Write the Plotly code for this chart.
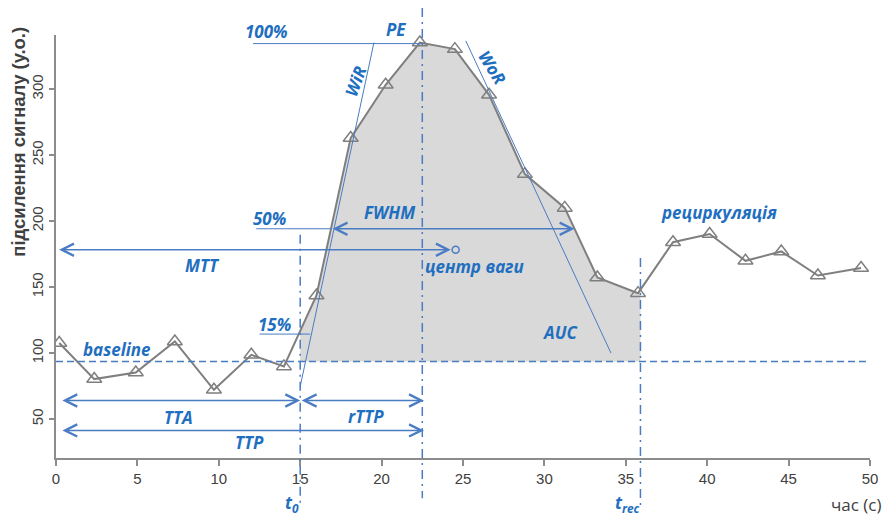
import numpy as np
import plotly.graph_objects as go

# ---- data ----
time_s = [0.2, 2.35, 4.9, 7.3, 9.7, 12.0, 14.0, 16.0, 18.1, 20.25, 22.35, 24.5,
          26.6, 28.8, 31.25, 33.25, 35.75, 37.9, 40.15, 42.35, 44.55, 46.8, 49.45]
signal = [107.6, 80.3, 85.3, 108.8, 72.2, 98.7, 89.9, 143.6, 262.9, 303.3, 335.3, 330.3,
          295.7, 235.6, 210.0, 157.3, 145.4, 184.0, 190.2, 169.9, 177.0, 158.8, 164.4]

x_ticks = [0, 5, 10, 15, 20, 25, 30, 35, 40, 45, 50]
y_ticks = [50, 100, 150, 200, 250, 300]

baseline = 93.6
t0 = 15.0
t_peak = 22.5
t_rec = 35.9
level_100 = 334.5
level_50 = 194.2
level_15 = 114.4
mtt_level = 178.3
centroid_t = 24.55
tta_level = 64.1
ttp_level = 41.4
fwhm_start, fwhm_end = 16.9, 31.85
wir_line = [(15.0, 74.7), (19.53, 335.3)]
wor_line = [(25.17, 336.6), (34.09, 100.0)]

x_range = [0, 50]
y_range = [20.5, 341]

BLUE_LINE = "#4a7cc4"
BLUE_TEXT = "#1f6fc0"
GRAY = "#7f7f7f"
DARK = "#404040"
LABEL_FONT = dict(family="Open Sans", size=17, color=BLUE_TEXT, weight="bold", style="italic")


def ypaper(v):
    return (v - y_range[0]) / (y_range[1] - y_range[0])


fig = go.Figure()

# AUC fill between t0 and t_rec above the baseline
inner = [t for t in time_s if t0 < t < t_rec]
fx = [t0] + inner + [t_rec]
fy = list(np.interp(fx, time_s, signal))
fig.add_trace(go.Scatter(
    x=[t0] + fx + [t_rec], y=[baseline] + fy + [baseline],
    fill="toself", fillcolor="#d9d9d9", line=dict(width=0),
    mode="lines", hoverinfo="skip", showlegend=False))

# signal curve
fig.add_trace(go.Scatter(
    x=time_s, y=signal, mode="lines+markers",
    line=dict(color=GRAY, width=2),
    marker=dict(symbol="triangle-up-open", size=13, color=GRAY, line=dict(width=1.5, color=GRAY)),
    showlegend=False))

# centre of mass marker
fig.add_trace(go.Scatter(
    x=[centroid_t], y=[mtt_level], mode="markers",
    marker=dict(symbol="circle-open", size=7, color=BLUE_LINE, line=dict(width=1.5, color=BLUE_LINE)),
    showlegend=False))

# baseline
fig.add_shape(type="line", xref="x", yref="y", x0=x_range[0], x1=x_range[1] + 0.2,
              y0=baseline, y1=baseline, line=dict(color=BLUE_LINE, width=1.5, dash="7px,4px"))

# vertical dash-dot lines
dd = "9px,5px,2px,5px"
fig.add_shape(type="line", xref="x", yref="paper", x0=t0, x1=t0,
              y0=ypaper(189.6), y1=-0.106, line=dict(color=BLUE_LINE, width=1.5, dash=dd))
fig.add_shape(type="line", xref="x", yref="paper", x0=t_peak, x1=t_peak,
              y0=1.064, y1=-0.095, line=dict(color=BLUE_LINE, width=1.5, dash=dd))
fig.add_shape(type="line", xref="x", yref="paper", x0=t_rec, x1=t_rec,
              y0=ypaper(172.0), y1=-0.115, line=dict(color=BLUE_LINE, width=1.5, dash=dd))

# level lines
fig.add_shape(type="line", xref="x", yref="y", x0=12.1, x1=t_peak, y0=level_100, y1=level_100,
              line=dict(color=BLUE_LINE, width=1))
fig.add_shape(type="line", xref="x", yref="y", x0=12.3, x1=fwhm_start, y0=level_50, y1=level_50,
              line=dict(color=BLUE_LINE, width=1))
fig.add_shape(type="line", xref="x", yref="y", x0=12.5, x1=15.6, y0=level_15, y1=level_15,
              line=dict(color=BLUE_LINE, width=1))

# tangent lines
for (a, b) in (wir_line, wor_line):
    fig.add_shape(type="line", xref="x", yref="y", x0=a[0], y0=a[1], x1=b[0], y1=b[1],
                  line=dict(color=BLUE_LINE, width=1))


def arrow(x_from, x_to, y, both=True):
    fig.add_annotation(x=x_to, y=y, ax=x_from, ay=y, xref="x", yref="y", axref="x", ayref="y",
                       text="", showarrow=True, arrowhead=5, startarrowhead=5,
                       arrowside="end+start" if both else "end",
                       arrowsize=1.6, startarrowsize=1.6, arrowwidth=1.5,
                       arrowcolor=BLUE_LINE, standoff=0, startstandoff=0)


arrow(0.1, centroid_t - 0.3, mtt_level)
arrow(fwhm_start, fwhm_end, level_50)
arrow(0.3, t0, tta_level)
arrow(t0, t_peak + 0.1, tta_level)
arrow(0.3, t_peak + 0.1, ttp_level)

labels = [
    ("100%", 12.9, 343.5, 0),
    ("PE", 20.9, 345.0, 0),
    ("WiR", 18.37, 306.0, -70),
    ("WoR", 26.8, 316.0, 58),
    ("50%", 13.1, 201.7, 0),
    ("FWHM", 20.5, 206.3, 0),
    ("MTT", 9.0, 166.0, 0),
    ("центр ваги", 25.7, 165.4, 0),
    ("рециркуляція", 40.7, 206.3, 0),
    ("15%", 13.45, 121.5, 0),
    ("baseline", 3.75, 102.5, 0),
    ("AUC", 30.96, 115.4, 0),
    ("TTA", 7.55, 51.0, 0),
    ("rTTP", 19.04, 51.7, 0),
    ("TTP", 11.86, 32.0, 0),
]
for txt, x, y, ang in labels:
    fig.add_annotation(x=x, y=ypaper(y), xref="x", yref="paper", text=txt, showarrow=False,
                       textangle=ang, font=LABEL_FONT, xanchor="center", yanchor="middle")

for txt, x, yp in (("t<sub>0</sub>", 14.5, -0.107), ("t<sub>rec</sub>", 35.1, -0.108)):
    fig.add_annotation(x=x, y=yp, xref="x", yref="paper", text=txt, showarrow=False,
                       font=LABEL_FONT, xanchor="center", yanchor="middle")

# axis titles
fig.add_annotation(x=1.017, y=-0.111, xref="paper", yref="paper", text="час (с)",
                   showarrow=False, xanchor="right", yanchor="middle",
                   font=dict(family="Open Sans", size=17, color=DARK))
fig.add_annotation(x=-0.047, y=0.747, xref="paper", yref="paper",
                   text="<b>підсилення сигналу (у.о.)</b>", textangle=-90,
                   showarrow=False, xanchor="center", yanchor="middle",
                   font=dict(family="Liberation Sans", size=18.5, color=DARK))

fig.update_xaxes(range=x_range, tickvals=x_ticks, showgrid=False, zeroline=False,
                 showline=True, linecolor="#8c8c8c", linewidth=2, ticks="outside",
                 ticklen=6, tickwidth=1.5, tickcolor="#8c8c8c",
                 tickfont=dict(family="Liberation Sans", size=15, color=DARK))
fig.update_yaxes(range=y_range, tickvals=y_ticks, showgrid=False, zeroline=False,
                 showline=True, linecolor="#8c8c8c", linewidth=2, ticks="outside",
                 ticklen=5, tickwidth=1.5, tickcolor="#8c8c8c", tickangle=-90,
                 tickfont=dict(family="Liberation Sans", size=15, color=DARK))

fig.update_layout(width=889, height=517, margin=dict(l=56, r=19, t=35, b=59),
                  plot_bgcolor="white", paper_bgcolor="white", showlegend=False)

fig.write_html("out.html", config={"displayModeBar": False},
               post_script="document.body.style.margin='0px';")
